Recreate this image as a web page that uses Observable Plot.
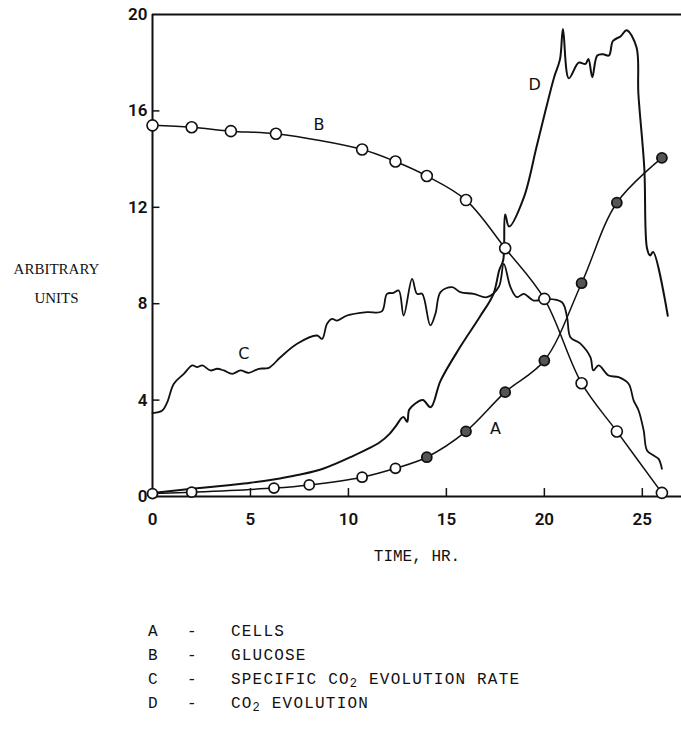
<!DOCTYPE html>
<html>
<head>
<meta charset="utf-8">
<script src="https://cdn.jsdelivr.net/npm/d3@7"></script>
<script src="https://cdn.jsdelivr.net/npm/@observablehq/plot@0.6"></script>
<style>
  html, body { margin: 0; padding: 0; background: #fff; }
  #chart svg { display: block; }
  #legend { position: relative; height: 140px; font-family: "Liberation Mono", monospace; font-size: 16px; letter-spacing: 1.2px; color: #111; }
  #legend .row { position: absolute; height: 24px; line-height: 24px; left: 0; right: 0; }
  #legend .k { position: absolute; left: 148px; }
  #legend .d { position: absolute; left: 187px; }
  #legend .t { position: absolute; left: 231px; white-space: nowrap; }
  #legend sub { font-size: 12px; vertical-align: -3px; line-height: 0; }
</style>
</head>
<body>
<div id="chart"></div>
<div id="legend"></div>
<script>
// ---- data ----
const xTicks = [0, 5, 10, 15, 20, 25];
const yTicks = [0, 4, 8, 12, 16, 20];

// A - cells (circles)
const tA = [0, 2, 6.2, 8, 10.7, 12.4, 14, 16, 18, 20, 21.9, 23.7, 26];
const cells = [0.12, 0.18, 0.35, 0.48, 0.8, 1.17, 1.63, 2.7, 4.33, 5.64, 8.85, 12.19, 14.05];

// B - glucose (circles)
const tB = [0, 2, 4, 6.3, 10.7, 12.4, 14, 16, 18, 20, 21.9, 23.7, 26];
const glucose = [15.4, 15.32, 15.16, 15.05, 14.4, 13.9, 13.3, 12.3, 10.3, 8.2, 4.7, 2.7, 0.15];

// C - specific CO2 evolution rate
const tC = [0, 0.5, 0.75, 1.09, 1.6, 2.03, 2.28, 2.54, 2.96, 3.3, 3.64, 4.07, 4.49, 4.91, 5.42, 5.94,
  6.53, 7.38, 8.4, 8.66, 8.91, 9.17, 9.42, 9.93, 10.95, 11.7, 11.97, 12.3, 12.57, 12.82, 13.25, 13.5,
  13.76, 14.18, 14.44, 14.7, 15.29, 15.71, 16.39, 17.07, 17.67, 17.93, 18.27, 18.6, 18.95, 19.46,
  20.1, 20.9, 21.16, 21.33, 21.84, 22.35, 22.5, 22.77, 23.28, 23.79, 24.3, 24.56, 24.81, 25.07,
  25.24, 25.58, 25.83, 26.0];
const rateC = [3.46, 3.57, 3.91, 4.68, 5.09, 5.44, 5.37, 5.44, 5.23, 5.3, 5.23, 5.09, 5.23, 5.13, 5.3, 5.34,
  5.78, 6.34, 6.68, 6.54, 7.17, 7.37, 7.3, 7.51, 7.65, 7.68, 8.41, 8.45, 8.55, 7.51, 9.03, 8.41,
  8.41, 7.1, 7.58, 8.48, 8.69, 8.48, 8.41, 8.27, 8.69, 9.65, 8.69, 8.27, 8.41, 8.13,
  8.2, 8.06, 7.44, 6.61, 6.34, 5.78, 5.23, 5.44, 5.02, 4.95, 4.68, 3.98, 3.57, 2.74,
  1.91, 1.7, 1.56, 1.15];

// D - CO2 evolution
const tD = [0, 2, 4, 5, 6.5, 7.55, 8.7, 10.1, 11.6, 12.1, 12.4, 12.8, 13.0, 13.1, 13.4, 13.8, 14.2,
  14.7, 15.7, 16.7, 17.4, 17.7, 17.9, 18.0, 18.2, 18.95, 19.6, 20.1, 20.5, 20.8, 20.95, 21.25,
  21.75, 22.1, 22.25, 22.45, 22.7, 23.0, 23.3, 23.5, 23.9, 24.2, 24.7, 24.8, 25.1, 25.24, 25.4,
  25.55, 26.3];
const co2 = [0.15, 0.32, 0.48, 0.57, 0.75, 0.91, 1.15, 1.63, 2.25, 2.6, 2.9, 3.3, 3.1, 3.6, 3.85, 4.0, 3.7,
  4.8, 6.2, 7.45, 8.4, 9.4, 9.8, 11.7, 11.2, 12.4, 14.5, 16.15, 17.4, 18.15, 19.4, 17.35,
  18.0, 17.95, 18.15, 17.4, 18.3, 18.35, 18.3, 18.9, 19.1, 19.35, 18.65, 16.7, 13.65, 10.3, 10.0,
  10.15, 7.5];

// curve labels
const labelNames = ["A", "B", "C", "D"];
const labelT = [17.5, 8.5, 4.66, 19.5];
const labelV = [2.8, 15.4, 5.9, 17.1];

// legend
const legendKeys = ["A", "B", "C", "D"];
const legendTexts = ["CELLS", "GLUCOSE", "SPECIFIC CO<sub>2</sub> EVOLUTION RATE", "CO<sub>2</sub> EVOLUTION"];

// ---- build tables ----
const A = tA.map((t, i) => ({t, v: cells[i]}));
const B = tB.map((t, i) => ({t, v: glucose[i]}));
const C = tC.map((t, i) => ({t, v: rateC[i]}));
const D = tD.map((t, i) => ({t, v: co2[i]}));
const labels = labelNames.map((s, i) => ({s, t: labelT[i], v: labelV[i]}));

const ink = "#111";
const chart = Plot.plot({
  width: 681,
  height: 590,
  marginLeft: 152,
  marginRight: 0,
  marginTop: 14,
  marginBottom: 94,
  x: {domain: [0, 27], axis: null},
  y: {domain: [0, 20], axis: null},
  style: {background: "#fff", color: ink},
  marks: [
    // frame: left, bottom, top
    Plot.ruleX([0], {stroke: ink, strokeWidth: 2}),
    Plot.ruleY([0], {stroke: ink, strokeWidth: 2}),
    Plot.ruleY([20], {stroke: ink, strokeWidth: 2}),
    // inward ticks
    Plot.ruleX(xTicks.filter(d => d > 0), {x: d => d, y1: 0, y2: 0.33, stroke: ink, strokeWidth: 1.5}),
    Plot.ruleY(yTicks.filter(d => d > 0 && d < 20), {y: d => d, x1: 0, x2: 0.38, stroke: ink, strokeWidth: 1.5}),
    // tick labels
    Plot.text(xTicks, {x: d => d, y: 0, dy: 23, text: d => String(d), fontSize: 17, fontWeight: 600, fontFamily: "Roboto", fill: ink, ariaLabel: "xticklabels"}),
    Plot.text(yTicks, {x: 0, y: d => d, dx: -5, textAnchor: "end", text: d => String(d), fontSize: 17, fontWeight: 600, fontFamily: "Roboto", fill: ink, ariaLabel: "yticklabels"}),
    // axis titles
    Plot.text(["TIME, HR."], {frameAnchor: "bottom", dy: 64, fontSize: 16, fontFamily: "Liberation Mono", fill: ink, ariaLabel: "xtitle"}),
    Plot.text(["ARBITRARY\nUNITS"], {frameAnchor: "left", textAnchor: "middle", dx: -96, dy: 24, lineHeight: 1.95, fontSize: 15, fontFamily: "Liberation Serif", fill: ink, ariaLabel: "ytitle"}),
    // curves
    Plot.line(D, {x: "t", y: "v", stroke: ink, strokeWidth: 2, curve: "catmull-rom"}),
    Plot.line(C, {x: "t", y: "v", stroke: ink, strokeWidth: 1.8, curve: "catmull-rom"}),
    Plot.line(B, {x: "t", y: "v", stroke: ink, strokeWidth: 1.5, curve: "catmull-rom"}),
    Plot.line(A, {x: "t", y: "v", stroke: ink, strokeWidth: 1.5, curve: "catmull-rom"}),
    Plot.dot(B, {x: "t", y: "v", r: 5.5, fill: "#fff", stroke: ink, strokeWidth: 1.6}),
    Plot.dot(A, {x: "t", y: "v", r: 5, fill: d => d.t >= 14 ? "#555" : "#fff", stroke: ink, strokeWidth: 1.8}),
    // curve labels
    Plot.text(labels, {x: "t", y: "v", text: "s", fontSize: 16, fontFamily: "DejaVu Sans", fill: ink})
  ]
});
d3.select(chart).selectAll('g[aria-label="xticklabels"] text, g[aria-label="yticklabels"] text').style("letter-spacing", "3px");
d3.select(chart).selectAll('g[aria-label="xtitle"] text').style("letter-spacing", "1.6px");
d3.select(chart).selectAll('g[aria-label="ytitle"] text').style("letter-spacing", "0.3px");
document.getElementById("chart").appendChild(chart);

// legend below the chart
const legend = document.getElementById("legend");
legendKeys.forEach((k, i) => {
  const row = document.createElement("div");
  row.className = "row";
  row.style.top = (30 + 24 * i) + "px";
  row.innerHTML = `<span class="k">${k}</span><span class="d">-</span><span class="t">${legendTexts[i]}</span>`;
  legend.appendChild(row);
});
</script>
</body>
</html>
